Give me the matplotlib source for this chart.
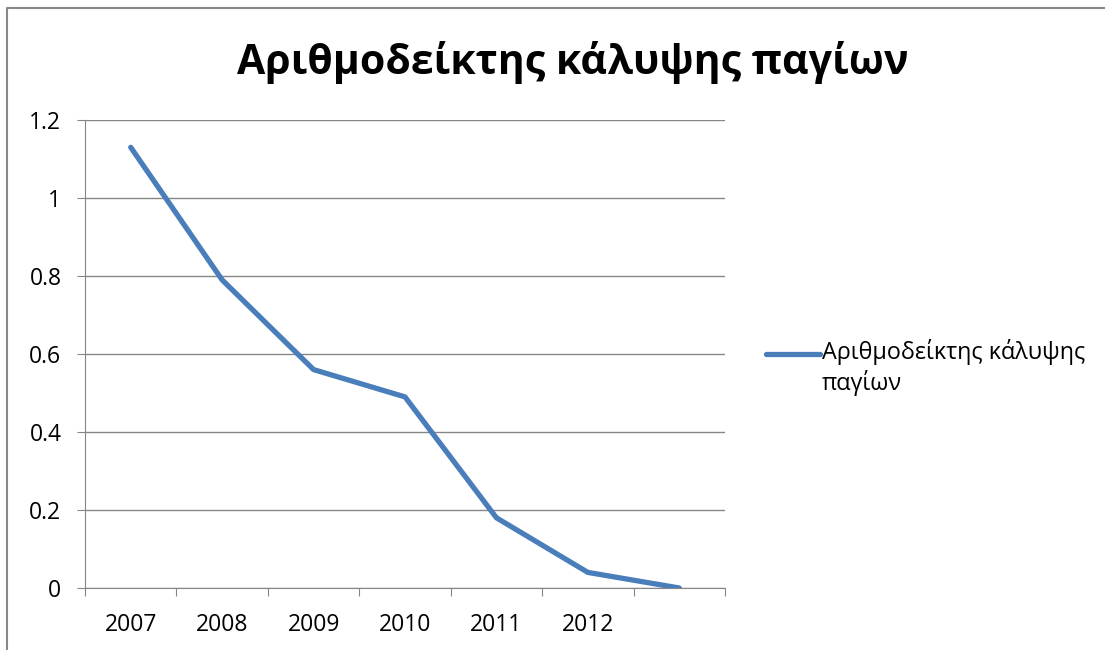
import matplotlib.pyplot as plt
from matplotlib.lines import Line2D

years = ["2007", "2008", "2009", "2010", "2011", "2012", ""]
ratio = [1.13, 0.79, 0.56, 0.49, 0.18, 0.04, 0.0]
series_name = "Αριθμοδείκτης κάλυψης\nπαγίων"
title = "Αριθμοδείκτης κάλυψης παγίων"

plt.rcParams["font.family"] = ["Open Sans", "DejaVu Sans"]

fig = plt.figure(figsize=(11.05, 6.5), dpi=100)
ax = fig.add_axes([85 / 1105, 1 - 588 / 650, 640 / 1105, 468 / 650])

x = list(range(len(years)))
ax.plot(x, ratio, color="#4A7EBB", lw=3.8, solid_capstyle="round",
        solid_joinstyle="round", zorder=3)

ax.set_xlim(-0.5, len(years) - 0.5)
ax.set_ylim(0, 1.2)
ax.set_yticks([0, 0.2, 0.4, 0.6, 0.8, 1, 1.2])
ax.set_yticklabels(["0", "0.2", "0.4", "0.6", "0.8", "1", "1.2"])
ax.yaxis.grid(True, color="#868686", lw=1)
ax.set_axisbelow(True)

# category labels sit between the boundary ticks
ax.set_xticks([i - 0.5 for i in range(len(years) + 1)])
ax.set_xticklabels([])
ax.set_xticks(x, minor=True)
ax.set_xticklabels(years, minor=True)
ax.tick_params(axis="x", which="major", length=5.5, color="#868686", direction="out")
ax.tick_params(axis="x", which="minor", length=0, pad=18, labelsize=16.5)
ax.tick_params(axis="y", length=6, color="#868686", labelsize=16.5, pad=11)

for s in ["top", "right"]:
    ax.spines[s].set_visible(False)
ax.spines["left"].set_color("#868686")
ax.spines["bottom"].set_color("#868686")

fig.text(573 / 1105, 1 - 62 / 650, title, ha="center", va="center",
         fontsize=29.5, fontweight="bold")

# legend
fig.add_artist(Line2D([766 / 1105, 820 / 1105], [1 - 354 / 650] * 2,
                      color="#4A7EBB", lw=3.8, solid_capstyle="round"))
fig.text(822 / 1105, 1 - 339 / 650, series_name, ha="left", va="top",
         fontsize=16.8, linespacing=1.25)

# chart border
fig.add_artist(Line2D([7 / 1105, 7 / 1105, 1], [0, 1 - 8 / 650, 1 - 8 / 650],
                      color="#888888", lw=1.5))

fig.savefig("out.png", dpi=100)
